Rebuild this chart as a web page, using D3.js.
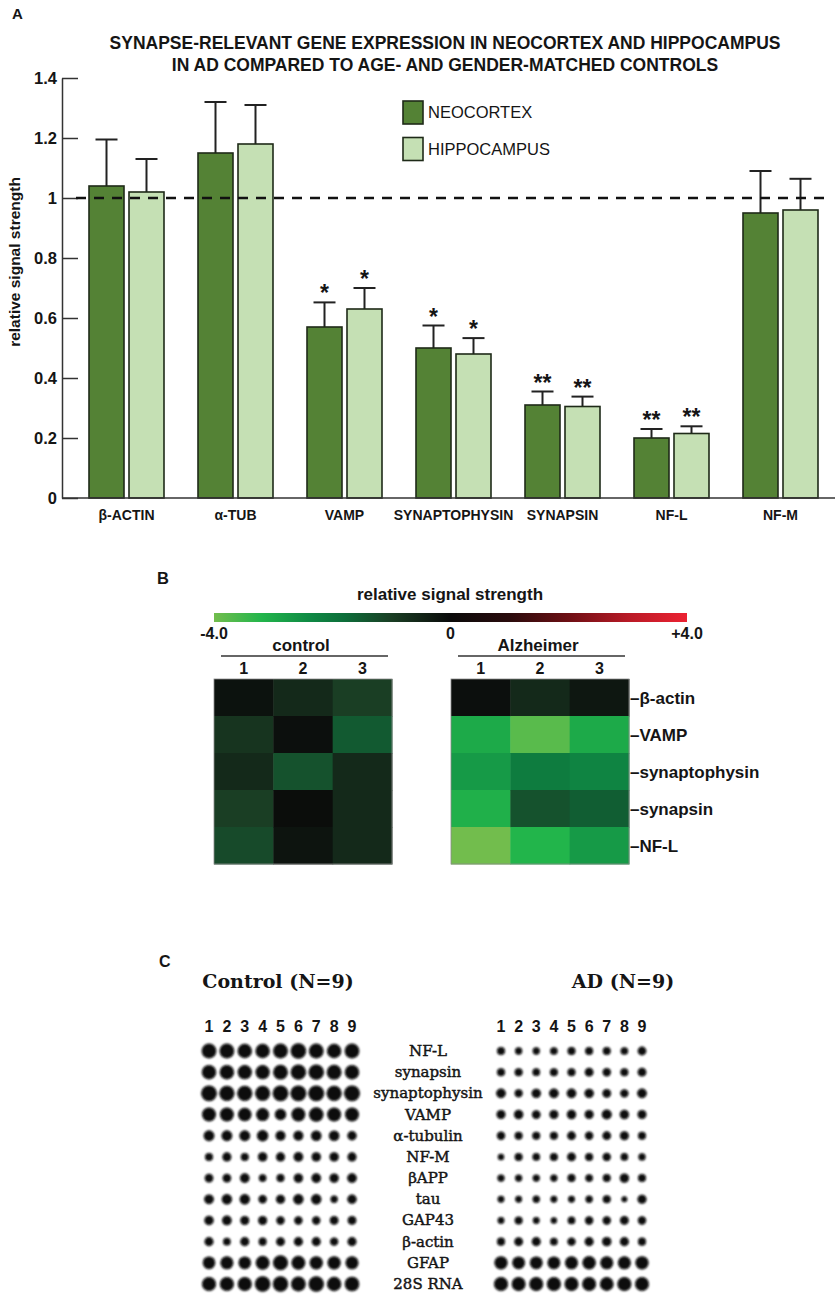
<!DOCTYPE html>
<html>
<head>
<meta charset="utf-8">
<script src="https://cdn.jsdelivr.net/npm/d3@7"></script>
<style>
  body { margin: 0; background: #fff; }
  svg { display: block; }
</style>
</head>
<body>
<div id="chart"></div>
<script>
// ---- Panel A data ----
const genes = ["β-ACTIN", "α-TUB", "VAMP", "SYNAPTOPHYSIN", "SYNAPSIN", "NF-L", "NF-M"];
const regions = ["NEOCORTEX", "HIPPOCAMPUS"];
const neocortex = [1.04, 1.15, 0.57, 0.50, 0.31, 0.20, 0.95];
const neocortexErr = [0.155, 0.17, 0.082, 0.075, 0.045, 0.03, 0.14];
const hippocampus = [1.02, 1.18, 0.63, 0.48, 0.305, 0.215, 0.96];
const hippocampusErr = [0.11, 0.13, 0.07, 0.053, 0.033, 0.024, 0.104];
const neocortexSig = ["", "", "*", "*", "**", "**", ""];
const hippocampusSig = ["", "", "*", "*", "**", "**", ""];
const yTicks = [0, 0.2, 0.4, 0.6, 0.8, 1, 1.2, 1.4];

// ---- Panel B data ----
const heatRows = ["β-actin", "VAMP", "synaptophysin", "synapsin", "NF-L"];
const heatCols = ["1", "2", "3"];
const controlHeat = [
  [-0.15, -0.6, -1.0],
  [-0.8, -0.1, -1.47],
  [-0.6, -1.33, -0.6],
  [-1.0, -0.05, -0.6],
  [-1.2, -0.2, -0.6]
];
const alzheimerHeat = [
  [-0.1, -0.6, -0.25],
  [-3.0, -3.75, -3.0],
  [-2.7, -2.1, -2.27],
  [-3.1, -1.33, -1.53],
  [-4.0, -3.2, -2.7]
];
const scaleStops = [-4, -3.2, -2.4, -1.8, -1, 0, 1, 2, 3, 4];
const scaleColors = ["#72bd4d", "#22b54b", "#0f8a44", "#0d6e3a", "#1a3e24",
                     "#0a0a0a", "#2a0b0c", "#6e0f14", "#b81a26", "#ec2232"];

// ---- Panel C data (spot signal, arbitrary units) ----
const blotRows = ["NF-L", "synapsin", "synaptophysin", "VAMP", "α-tubulin", "NF-M",
                  "βAPP", "tau", "GAP43", "β-actin", "GFAP", "28S RNA"];
const blotCols = ["1", "2", "3", "4", "5", "6", "7", "8", "9"];
const controlSpots = [
  [74, 74, 70, 70, 74, 82, 74, 70, 74],
  [70, 70, 68, 68, 74, 80, 80, 74, 70],
  [84, 78, 78, 76, 84, 86, 86, 78, 86],
  [66, 66, 62, 58, 44, 66, 72, 66, 66],
  [40, 40, 40, 44, 34, 34, 38, 38, 30],
  [22, 28, 22, 30, 28, 32, 30, 30, 28],
  [26, 26, 32, 20, 22, 30, 32, 30, 32],
  [32, 36, 36, 24, 28, 36, 36, 18, 30],
  [30, 32, 28, 28, 24, 24, 24, 26, 26],
  [28, 20, 28, 22, 26, 28, 28, 24, 28],
  [54, 58, 54, 66, 76, 66, 60, 60, 58],
  [68, 68, 68, 82, 80, 74, 80, 70, 72]
];
const adSpots = [
  [22, 18, 18, 20, 22, 22, 22, 20, 26],
  [22, 22, 20, 22, 22, 26, 24, 22, 26],
  [32, 22, 30, 32, 32, 30, 26, 24, 32],
  [28, 30, 26, 28, 30, 28, 34, 30, 28],
  [24, 22, 22, 22, 26, 24, 26, 28, 22],
  [14, 22, 20, 22, 26, 22, 24, 20, 18],
  [18, 18, 18, 18, 22, 20, 22, 30, 22],
  [16, 16, 18, 16, 16, 18, 22, 12, 28],
  [16, 22, 16, 14, 20, 24, 24, 26, 24],
  [22, 26, 28, 20, 24, 28, 30, 28, 22],
  [60, 56, 56, 56, 58, 62, 58, 58, 60],
  [68, 66, 66, 68, 66, 66, 64, 68, 66]
];

const sans = "'Liberation Sans', Arial, sans-serif";
const serif = "'DejaVu Serif', serif";
const ink = "#151515";

const svg = d3.select("#chart").append("svg")
    .attr("width", 839)
    .attr("height", 1302);

function drawPanelA() {
  const g = svg.append("g");

  g.append("text")
      .attr("x", 12).attr("y", 19)
      .attr("font-family", sans).attr("font-weight", "bold").attr("font-size", 15)
      .attr("fill", ink)
      .text("A");

  const title = g.append("text")
      .attr("text-anchor", "middle")
      .attr("font-family", sans).attr("font-weight", "bold").attr("font-size", 17.5)
      .attr("fill", ink);
  title.append("tspan").attr("x", 445).attr("y", 49)
      .text("SYNAPSE-RELEVANT GENE EXPRESSION IN NEOCORTEX AND HIPPOCAMPUS");
  title.append("tspan").attr("x", 445).attr("y", 71)
      .text("IN AD COMPARED TO AGE- AND GENDER-MATCHED CONTROLS");

  const y = d3.scaleLinear().domain([0, 1.4]).range([498, 78]);
  const x0 = d3.scaleBand().domain(genes).range([72, 835])
      .paddingInner(0.312).paddingOuter(0.156);
  const x1 = d3.scaleBand().domain(regions).range([0, x0.bandwidth()]).paddingInner(0.125);
  const color = d3.scaleOrdinal().domain(regions).range(["#548235", "#c5e0b4"]);

  // y axis, ticks pointing inward
  const yAxis = g.append("g")
      .attr("transform", "translate(62,0)")
      .call(d3.axisLeft(y).tickValues(yTicks).tickSizeInner(-16).tickSizeOuter(0).tickPadding(5)
          .tickFormat(d => String(d)));
  yAxis.selectAll("path, line").attr("stroke", "#333").attr("stroke-width", 1.5);
  yAxis.selectAll("text")
      .attr("font-family", sans).attr("font-weight", "bold").attr("font-size", 16.5)
      .attr("fill", ink);

  g.append("text")
      .attr("transform", "translate(20,262) rotate(-90)")
      .attr("text-anchor", "middle")
      .attr("font-family", sans).attr("font-weight", "bold").attr("font-size", 15.5)
      .attr("fill", ink)
      .text("relative signal strength");

  const rows = genes.map((gene, i) => ({
    gene,
    values: [
      { region: regions[0], value: neocortex[i], err: neocortexErr[i], sig: neocortexSig[i] },
      { region: regions[1], value: hippocampus[i], err: hippocampusErr[i], sig: hippocampusSig[i] }
    ]
  }));

  const groups = g.append("g").selectAll("g")
      .data(rows)
      .join("g")
      .attr("transform", d => `translate(${x0(d.gene)},0)`);

  const bars = groups.selectAll("g")
      .data(d => d.values)
      .join("g");

  const cap = 22;
  bars.append("line")
      .attr("x1", d => x1(d.region) + x1.bandwidth() / 2)
      .attr("x2", d => x1(d.region) + x1.bandwidth() / 2)
      .attr("y1", d => y(d.value))
      .attr("y2", d => y(d.value + d.err))
      .attr("stroke", "#222").attr("stroke-width", 2);
  bars.append("line")
      .attr("x1", d => x1(d.region) + x1.bandwidth() / 2 - cap / 2)
      .attr("x2", d => x1(d.region) + x1.bandwidth() / 2 + cap / 2)
      .attr("y1", d => y(d.value + d.err))
      .attr("y2", d => y(d.value + d.err))
      .attr("stroke", "#222").attr("stroke-width", 2);

  bars.append("rect")
      .attr("x", d => x1(d.region))
      .attr("y", d => y(d.value))
      .attr("width", x1.bandwidth())
      .attr("height", d => y(0) - y(d.value))
      .attr("fill", d => color(d.region))
      .attr("stroke", "#1e2a18").attr("stroke-width", 1.6);

  bars.append("text")
      .attr("x", d => x1(d.region) + x1.bandwidth() / 2)
      .attr("y", d => y(d.value + d.err) - 1)
      .attr("text-anchor", "middle")
      .attr("font-family", sans).attr("font-weight", "bold").attr("font-size", 23)
      .attr("fill", ink)
      .text(d => d.sig);

  // reference line at 1
  g.append("line")
      .attr("x1", 76).attr("x2", 826)
      .attr("y1", y(1)).attr("y2", y(1))
      .attr("stroke", "#111").attr("stroke-width", 2.6)
      .attr("stroke-dasharray", "10,8");

  // x axis
  g.append("line")
      .attr("x1", 62).attr("x2", 835)
      .attr("y1", y(0)).attr("y2", y(0))
      .attr("stroke", "#333").attr("stroke-width", 1.5);
  const xAxis = g.append("g")
      .attr("transform", `translate(0,${y(0)})`)
      .call(d3.axisBottom(x0).tickSize(0).tickPadding(12));
  xAxis.select(".domain").remove();
  xAxis.selectAll("text")
      .attr("font-family", sans).attr("font-weight", "bold").attr("font-size", 14)
      .attr("fill", ink);

  // legend
  const legend = g.append("g").selectAll("g")
      .data(regions)
      .join("g")
      .attr("transform", (d, i) => `translate(403,${101 + i * 36.5})`);
  legend.append("rect")
      .attr("width", 20).attr("height", 23)
      .attr("fill", d => color(d))
      .attr("stroke", "#1e2a18").attr("stroke-width", 1.6);
  legend.append("text")
      .attr("x", 25).attr("y", 17)
      .attr("font-family", sans).attr("font-size", 16.5)
      .attr("fill", ink)
      .text(d => d);
}

function drawPanelB() {
  const g = svg.append("g");
  const heatColor = d3.scaleLinear().domain(scaleStops).range(scaleColors).clamp(true);

  g.append("text")
      .attr("x", 157).attr("y", 584)
      .attr("font-family", sans).attr("font-weight", "bold").attr("font-size", 16.5)
      .attr("fill", ink)
      .text("B");

  g.append("text")
      .attr("x", 450).attr("y", 600)
      .attr("text-anchor", "middle")
      .attr("font-family", sans).attr("font-weight", "bold").attr("font-size", 17)
      .attr("fill", ink)
      .text("relative signal strength");

  // colour bar
  const cb = d3.scaleLinear().domain([-4, 4]).range([214, 687]);
  const grad = svg.append("defs").append("linearGradient")
      .attr("id", "heatGrad")
      .attr("x1", "0%").attr("x2", "100%");
  grad.selectAll("stop")
      .data(scaleStops)
      .join("stop")
      .attr("offset", d => `${(d + 4) / 8 * 100}%`)
      .attr("stop-color", d => heatColor(d));
  g.append("rect")
      .attr("x", cb(-4)).attr("y", 613)
      .attr("width", cb(4) - cb(-4)).attr("height", 9)
      .attr("fill", "url(#heatGrad)");
  g.append("g").selectAll("text")
      .data([-4, 0, 4])
      .join("text")
      .attr("x", d => cb(d))
      .attr("y", 639)
      .attr("text-anchor", "middle")
      .attr("font-family", sans).attr("font-weight", "bold").attr("font-size", 16)
      .attr("fill", ink)
      .text(d => d === 0 ? "0" : (d > 0 ? "+" : "") + d.toFixed(1));

  const rowScale = d3.scaleBand().domain(heatRows).range([679, 864]);

  function heatmap(values, left, label, withRowLabels) {
    const colScale = d3.scaleBand().domain(heatCols).range([left, left + 178]);
    const hg = g.append("g");

    hg.append("text")
        .attr("x", left + 89 - 2).attr("y", 651)
        .attr("text-anchor", "middle")
        .attr("font-family", sans).attr("font-weight", "bold").attr("font-size", 17)
        .attr("fill", ink)
        .text(label);
    hg.append("line")
        .attr("x1", left + 7).attr("x2", left + 174)
        .attr("y1", 656).attr("y2", 656)
        .attr("stroke", "#333").attr("stroke-width", 1.5);
    hg.append("g").selectAll("text")
        .data(heatCols)
        .join("text")
        .attr("x", d => colScale(d) + colScale.bandwidth() / 2)
        .attr("y", 674)
        .attr("text-anchor", "middle")
        .attr("font-family", sans).attr("font-weight", "bold").attr("font-size", 16)
        .attr("fill", ink)
        .text(d => d);

    const cells = [];
    values.forEach((row, r) => row.forEach((v, c) => cells.push({ row: heatRows[r], col: heatCols[c], v })));
    hg.append("g").selectAll("rect")
        .data(cells)
        .join("rect")
        .attr("x", d => colScale(d.col))
        .attr("y", d => rowScale(d.row))
        .attr("width", colScale.bandwidth() + 0.5)
        .attr("height", rowScale.bandwidth() + 0.5)
        .attr("fill", d => heatColor(d.v));
    hg.append("rect")
        .attr("x", left).attr("y", 679)
        .attr("width", 178).attr("height", 185)
        .attr("fill", "none").attr("stroke", "#8a8a8a").attr("stroke-width", 0.8);

    if (withRowLabels) {
      hg.append("g").selectAll("text")
          .data(heatRows)
          .join("text")
          .attr("x", left + 179)
          .attr("y", d => rowScale(d) + rowScale.bandwidth() / 2 + 6)
          .attr("font-family", sans).attr("font-weight", "bold").attr("font-size", 17)
          .attr("fill", ink)
          .text(d => "–" + d);
    }
  }

  heatmap(controlHeat, 214, "control", false);
  heatmap(alzheimerHeat, 451, "Alzheimer", true);
}

function drawPanelC() {
  const g = svg.append("g");
  const radius = d3.scaleSqrt().domain([0, 100]).range([0, 8.6]);
  const rowY = d3.scalePoint().domain(blotRows).range([1051, 1284]);

  const blur = svg.append("defs").append("filter")
      .attr("id", "spotBlur")
      .attr("x", "-50%").attr("y", "-50%").attr("width", "200%").attr("height", "200%");
  blur.append("feGaussianBlur").attr("stdDeviation", 0.8);

  g.append("text")
      .attr("x", 159).attr("y", 967)
      .attr("font-family", sans).attr("font-weight", "bold").attr("font-size", 16)
      .attr("fill", ink)
      .text("C");

  function blot(values, x0, x1, title, titleX) {
    const colX = d3.scalePoint().domain(blotCols).range([x0, x1]);
    const bg = g.append("g");

    bg.append("text")
        .attr("x", titleX).attr("y", 988)
        .attr("text-anchor", "middle")
        .attr("font-family", serif).attr("font-weight", "bold").attr("font-size", 19)
        .attr("fill", ink)
        .text(title);

    bg.append("g").selectAll("text")
        .data(blotCols)
        .join("text")
        .attr("x", d => colX(d))
        .attr("y", 1032)
        .attr("text-anchor", "middle")
        .attr("font-family", sans).attr("font-weight", "bold").attr("font-size", 16)
        .attr("fill", ink)
        .text(d => d);

    const spots = [];
    values.forEach((row, r) => row.forEach((v, c) => spots.push({ row: blotRows[r], col: blotCols[c], v })));
    bg.append("g")
        .attr("filter", "url(#spotBlur)")
        .selectAll("circle")
        .data(spots)
        .join("circle")
        .attr("cx", d => colX(d.col))
        .attr("cy", d => rowY(d.row))
        .attr("r", d => radius(d.v))
        .attr("fill", "#080808");
  }

  blot(controlSpots, 209, 352, "Control (N=9)", 278);
  blot(adSpots, 501, 642, "AD (N=9)", 623);

  g.append("g").selectAll("text")
      .data(blotRows)
      .join("text")
      .attr("x", 428)
      .attr("y", d => rowY(d) + 5)
      .attr("text-anchor", "middle")
      .attr("font-family", serif).attr("font-size", 15)
      .attr("fill", ink)
      .attr("stroke", ink).attr("stroke-width", 0.45)
      .text(d => d);
}

drawPanelA();
drawPanelB();
drawPanelC();
</script>
</body>
</html>
